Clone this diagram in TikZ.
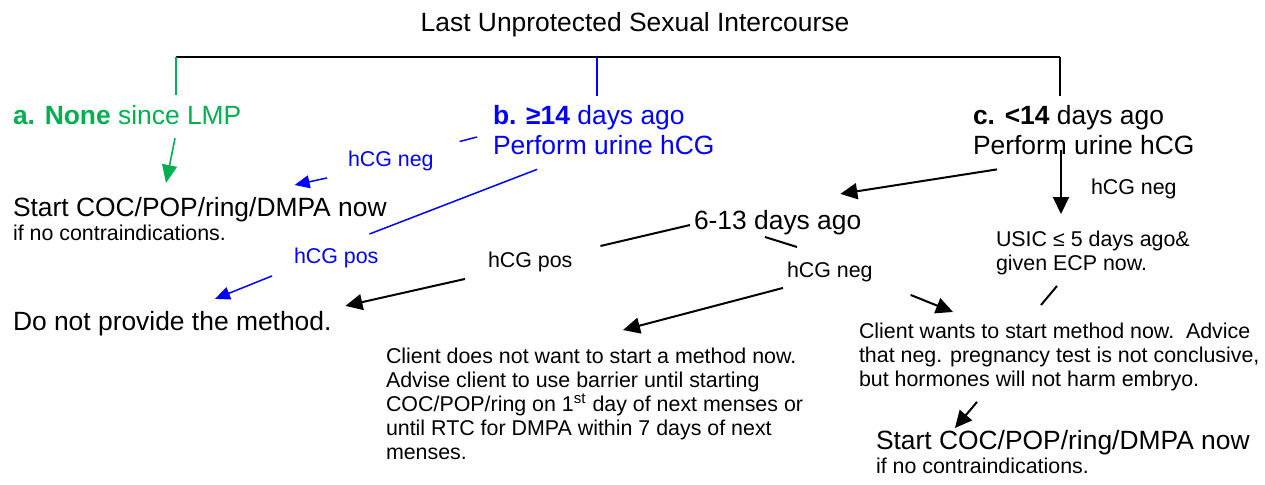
\documentclass[tikz,border=0pt]{standalone}
\usepackage{fontspec}
\setmainfont{Liberation Sans}
\usepackage{tikz}
\usetikzlibrary{arrows.meta}

\definecolor{lmpgreen}{RGB}{0,176,80}
\definecolor{hcgblue}{RGB}{0,0,255}
\newcommand{\bigtxt}{\fontsize{13.2}{15}\selectfont}
\newcommand{\smalltxt}{\fontsize{10.7}{12}\selectfont}

\begin{document}
\begin{tikzpicture}[x=0.5pt,y=-0.5pt,line width=1pt,>={Triangle[length=8.5pt,width=8pt]},
    bigtext/.style={font=\bigtxt,inner sep=0pt,align=left},
    smalltext/.style={font=\smalltxt,inner sep=0pt,align=left},
    bluearrow/.style={hcgblue,line width=0.75pt,-{Triangle[length=7.5pt,width=6.5pt]}},
    greenarrow/.style={lmpgreen,line width=0.8pt,-{Triangle[length=9pt,width=7.5pt]}}]
    \useasboundingbox (0,0) rectangle (1265,484);

    % The tree
    \node [bigtext,anchor=base] at (635,31) (title) {Last Unprotected Sexual Intercourse};
    \node [bigtext,anchor=base west,text=lmpgreen] at (12,124) (nA) {\textbf{a. None} since LMP};
    \node [bigtext,anchor=north west,text=hcgblue] at (492,104) (nB) {\textbf{b. ≥14} days ago\\Perform urine hCG};
    \node [bigtext,anchor=north west] at (972,104) (nC) {\textbf{c. <14} days ago\\Perform urine hCG};
    \node [smalltext,anchor=north west] at (12,196) (startA) {{\bigtxt Start COC/POP/ring/DMPA now}\\if no contraindications.};
    \node [bigtext,anchor=base west] at (12,330) (noProv) {Do not provide the method.};
    \node [bigtext,anchor=base west] at (693,229) (days613) {6-13 days ago};
    \node [smalltext,anchor=north west] at (995,229.5) (usic) {USIC ≤ 5 days ago\&\\given ECP now.};
    \node [smalltext,anchor=north west] at (385,346.5) (clientNo) {Client does not want to start a method now.\\Advise client to use barrier until starting\\COC/POP/ring on 1\textsuperscript{st} day of next menses or\\until RTC for DMPA within 7 days of next\\menses.};
    \node [smalltext,anchor=north west] at (858,321.5) (clientYes) {Client wants to start method now.\ \ Advice\\that neg. pregnancy test is not conclusive,\\but hormones will not harm embryo.};
    \node [smalltext,anchor=north west] at (875,429) (startC) {{\bigtxt Start COC/POP/ring/DMPA now}\\if no contraindications.};

    % Test results
    \node [smalltext,anchor=base west,text=hcgblue] at (347,166) (hcgNegB) {hCG neg};
    \node [smalltext,anchor=base west,text=hcgblue] at (293,263) (hcgPosB) {hCG pos};
    \node [smalltext,anchor=base west] at (487,267) (hcgPos) {hCG pos};
    \node [smalltext,anchor=base west] at (786,277) (hcgNeg) {hCG neg};
    \node [smalltext,anchor=base west] at (1090,194) (hcgNegC) {hCG neg};

    % Bracket
    \coordinate (brL) at (176,57);
    \coordinate (brM) at (597,57);
    \coordinate (brR) at (1060,57);
    \draw (brL) -- (brR);
    \draw [lmpgreen,shorten >=4.5pt] (brL) -- (brL |- nA.north);
    \draw [hcgblue,line width=0.75pt,shorten >=4pt] (brM) -- (brM |- nB.north);
    \draw [shorten >=4pt] (brR) -- (brR |- nC.north);

    % Edges
    \draw [greenarrow] ([shift={(163,13)}]nA.south west) -- ([shift={(154,-13)}]startA.north west);
    \draw [hcgblue,line width=0.75pt] ([shift={(-15,33)}]nB.north west) -- ([shift={(25,-8)}]hcgNegB.north east);
    \draw [bluearrow] ([shift={(-20,6.5)}]hcgNegB.south west) -- ([shift={(-93,-11)}]startA.north east);
    \draw [hcgblue,line width=0.75pt] ([shift={(45,14)}]nB.south west) -- ([shift={(-10,-12.5)}]hcgPosB.north east);
    \draw [bluearrow] ([shift={(-21,7.5)}]hcgPosB.south west) -- ([shift={(203,-11)}]noProv.north west);
    \draw ([shift={(-3,-4)}]days613.base west) -- ([shift={(27,-4.5)}]hcgPos.north east);
    \draw [->] ([shift={(-22,6.5)}]hcgPos.south west) -- ([shift={(13,-4)}]noProv.north east);
    \draw [->] ([shift={(25,14)}]nC.south west) -- ([shift={(-22,-15)}]days613.north east);
    \draw [->] ([shift={(89,46)}]nC.north west) -- ([shift={(66,-15.5)}]usic.north west);
    \draw ([shift={(72,1.5)}]days613.south west) -- ([shift={(11,-13.5)}]hcgNeg.north west);
    \draw [->] ([shift={(-3,5.5)}]hcgNeg.south west) -- ([shift={(238,-16.5)}]clientNo.north west);
    \draw [->] ([shift={(37,12.5)}]hcgNeg.south east) -- ([shift={(95,-9.5)}]clientYes.north west);
    \draw ([shift={(62,10.5)}]usic.south west) -- ([shift={(183,-16.5)}]clientYes.north west);
    \draw [->] ([shift={(119,10.5)}]clientYes.south west) -- ([shift={(80,-1)}]startC.north west);

\end{tikzpicture}
\end{document}
